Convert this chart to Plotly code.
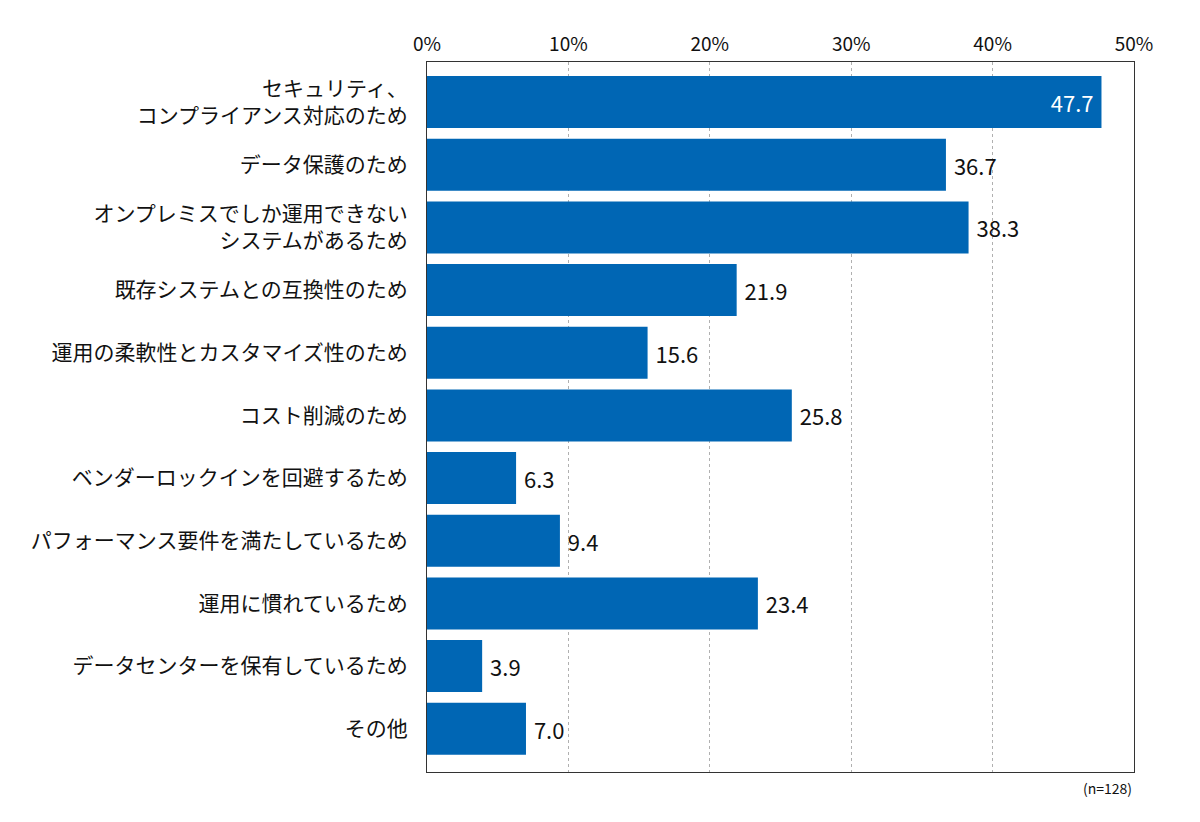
import plotly.graph_objects as go

categories = [
    "セキュリティ、<br>コンプライアンス対応のため",
    "データ保護のため",
    "オンプレミスでしか運用できない<br>システムがあるため",
    "既存システムとの互換性のため",
    "運用の柔軟性とカスタマイズ性のため",
    "コスト削減のため",
    "ベンダーロックインを回避するため",
    "パフォーマンス要件を満たしているため",
    "運用に慣れているため",
    "データセンターを保有しているため",
    "その他",
]
values = [47.7, 36.7, 38.3, 21.9, 15.6, 25.8, 6.3, 9.4, 23.4, 3.9, 7.0]
tick_vals = [0, 10, 20, 30, 40, 50]
tick_text = ["0%", "10%", "20%", "30%", "40%", "50%"]
note = "(n=128)"

FONT = "Noto Sans CJK JP"
positions = ["inside" if v > 45 else "outside" for v in values]
colors = ["white" if p == "inside" else "#111111" for p in positions]

fig = go.Figure(go.Bar(
    x=values,
    y=list(range(len(categories))),
    orientation="h",
    marker=dict(color="#0066b4", line=dict(width=0)),
    text=[f"{v:.1f}" for v in values],
    texttemplate=" %{text} ",
    textposition=positions,
    insidetextanchor="end",
    textfont=dict(family=FONT, size=22, color=colors),
    cliponaxis=False,
    width=0.83,
))

fig.update_layout(
    width=1200, height=822,
    margin=dict(l=419, r=74, t=54, b=58, pad=0),
    paper_bgcolor="white", plot_bgcolor="white",
    showlegend=False,
    font=dict(family=FONT, size=19, color="#111111"),
    xaxis=dict(
        side="top", range=[0, 50], tickvals=tick_vals, ticktext=tick_text,
        showgrid=True, gridcolor="#b0b0b0", griddash="3px,3px", gridwidth=1,
        showline=True, linecolor="#333333", linewidth=1, mirror=True,
        ticks="", zeroline=False, tickfont=dict(size=19), automargin=False,
        ticklabelstandoff=2,
    ),
    yaxis=dict(
        range=[10.69, -0.64], tickvals=list(range(len(categories))),
        ticktext=categories, showgrid=False,
        showline=True, linecolor="#333333", linewidth=1, mirror=True,
        ticks="", zeroline=False, tickfont=dict(size=21),
        ticklabelstandoff=14, automargin=False,
    ),
    annotations=[dict(
        text=note, x=1, y=-0.005, xref="paper", yref="paper",
        xanchor="right", yanchor="top", showarrow=False,
        font=dict(family=FONT, size=14, color="#111111"),
    )],
)

fig.write_html("out.html")
